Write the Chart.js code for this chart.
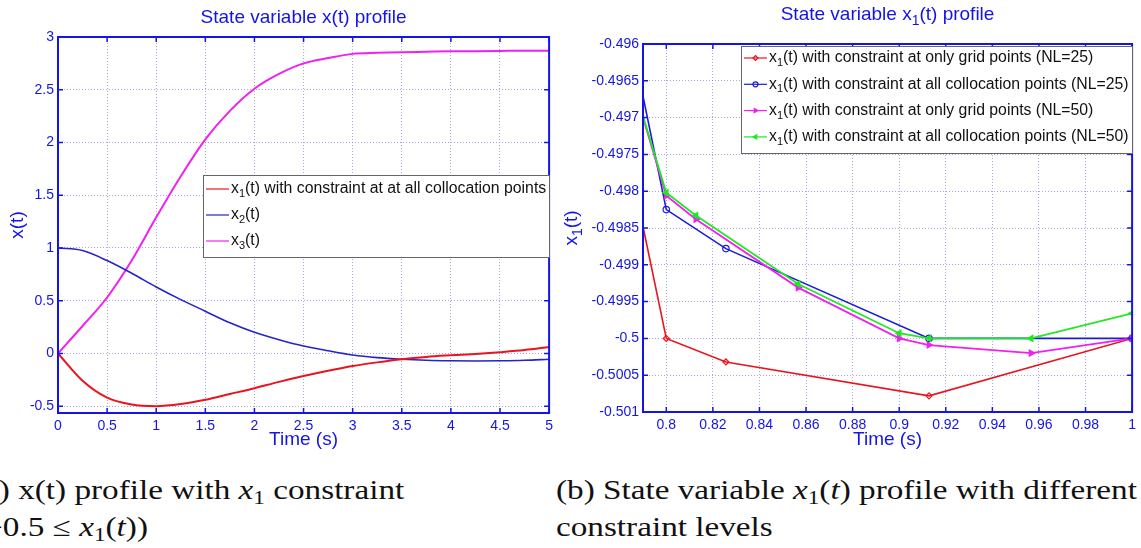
<!DOCTYPE html>
<html>
<head>
<meta charset="utf-8">
<script src="https://cdn.jsdelivr.net/npm/chart.js@4.4.1/dist/chart.umd.min.js"></script>
<style>
  html, body { margin: 0; padding: 0; background: #fff; width: 1141px; height: 548px; overflow: hidden; position: relative; }
  canvas { position: absolute; top: 0; }
  #chartA { left: 0; }
  #chartB { left: 558px; }
  .cap { position: absolute; font-family: "Liberation Serif", "DejaVu Serif", serif; font-size: 27px; line-height: 37px;
         color: #111; white-space: nowrap; transform: scaleX(1.23); transform-origin: left top; }
  .cap i { font-style: italic; }
  .cap sub { font-size: 0.7em; vertical-align: -0.25em; line-height: 0; }
</style>
</head>
<body>
<canvas id="chartA" width="558" height="450"></canvas>
<canvas id="chartB" width="583" height="450"></canvas>
<div class="cap" style="left:-27px; top:472px">(a) x(t) profile with <i>x</i><sub>1</sub> constraint<br>(−0.5 ≤ <i>x</i><sub>1</sub>(<i>t</i>))</div>
<div class="cap" style="left:556px; top:472px">(b) State variable <i>x</i><sub>1</sub>(<i>t</i>) profile with different<br>constraint levels</div>

<script>
// ---- data, figure (a) ----
const timeA = [0, 0.25, 0.5, 0.75, 1, 1.25, 1.5, 1.75, 2, 2.25, 2.5, 2.75, 3, 3.25, 3.5, 3.75, 4, 4.25, 4.5, 4.75, 5];
const x1A = [0, -0.26, -0.42, -0.485, -0.5, -0.48, -0.44, -0.385, -0.33, -0.27, -0.215, -0.165, -0.12, -0.085, -0.055, -0.033, -0.018, -0.005, 0.012, 0.032, 0.06];
const x2A = [1, 0.975, 0.88, 0.76, 0.63, 0.51, 0.4, 0.29, 0.2, 0.13, 0.07, 0.025, -0.015, -0.04, -0.055, -0.065, -0.07, -0.072, -0.07, -0.065, -0.055];
const x3A = [0, 0.26, 0.53, 0.88, 1.29, 1.68, 2.03, 2.3, 2.51, 2.65, 2.75, 2.8, 2.84, 2.85, 2.856, 2.86, 2.864, 2.866, 2.868, 2.87, 2.87];
const xTicksA = [0, 0.5, 1, 1.5, 2, 2.5, 3, 3.5, 4, 4.5, 5];
const yTicksA = [-0.5, 0, 0.5, 1, 1.5, 2, 2.5, 3];

// ---- data, figure (b) ----
const tGrid25 = [0.79, 0.8, 0.8256, 0.9128, 1.0];
const x1Grid25 = [-0.49848, -0.5, -0.50032, -0.50078, -0.5];
const tColl25 = [0.79, 0.8, 0.8256, 0.9128, 1.0];
const x1Coll25 = [-0.49671, -0.49825, -0.49878, -0.5, -0.5];
const tGrid50 = [0.79, 0.8, 0.8127, 0.8566, 0.9, 0.9128, 0.9566, 1.0];
const x1Grid50 = [-0.497, -0.49806, -0.49838, -0.49931, -0.5, -0.50009, -0.5002, -0.5];
const tColl50 = [0.79, 0.8, 0.8127, 0.8566, 0.9, 0.9128, 0.9566, 1.0];
const x1Coll50 = [-0.49698, -0.49802, -0.49833, -0.49926, -0.49993, -0.5, -0.5, -0.49966];
const xTicksB = [0.8, 0.82, 0.84, 0.86, 0.88, 0.9, 0.92, 0.94, 0.96, 0.98, 1];
const yTicksB = [-0.501, -0.5005, -0.5, -0.4995, -0.499, -0.4985, -0.498, -0.4975, -0.497, -0.4965, -0.496];

const FONT = '"Liberation Sans", Arial, sans-serif';
const BLUE = '#1414e6';
const GRID = 'rgba(110, 110, 200, 0.6)';

function pts(xs, ys) {
    return xs.map((x, i) => ({ x: x, y: ys[i] }));
}

// text with subscripts: parts = [[text, isSub], ...]
function richWidth(ctx, parts, size) {
    var w = 0;
    parts.forEach(p => {
        ctx.font = (p[1] ? Math.round(size * 0.72) : size) + 'px ' + FONT;
        w += ctx.measureText(p[0]).width;
    });
    return w;
}
function drawRich(ctx, x, y, parts, size) {
    ctx.textAlign = 'left';
    parts.forEach(p => {
        ctx.font = (p[1] ? Math.round(size * 0.72) : size) + 'px ' + FONT;
        ctx.fillText(p[0], x, y + (p[1] ? size * 0.32 : 0));
        x += ctx.measureText(p[0]).width;
    });
    return x;
}

// frame, inner ticks, titles and legend drawn MATLAB style
const figPlugin = {
    id: 'fig',
    afterDraw(chart, args, o) {
        const ctx = chart.ctx;
        const a = chart.chartArea;
        const xs = chart.scales.x, ys = chart.scales.y;
        ctx.save();

        ctx.strokeStyle = BLUE;
        ctx.lineWidth = 1.5;
        ctx.beginPath();
        xs.ticks.forEach(t => {
            var px = xs.getPixelForValue(t.value);
            ctx.moveTo(px, a.bottom); ctx.lineTo(px, a.bottom - 5);
            ctx.moveTo(px, a.top); ctx.lineTo(px, a.top + 5);
        });
        ys.ticks.forEach(t => {
            var py = ys.getPixelForValue(t.value);
            ctx.moveTo(a.left, py); ctx.lineTo(a.left + 5, py);
            ctx.moveTo(a.right, py); ctx.lineTo(a.right - 5, py);
        });
        ctx.stroke();
        ctx.lineWidth = 2;
        ctx.strokeRect(a.left, a.top, a.right - a.left, a.bottom - a.top);

        // legend box
        var lg = o.legend;
        ctx.fillStyle = '#fff';
        ctx.fillRect(lg.x, lg.y, lg.w, lg.h);
        ctx.strokeStyle = '#666';
        ctx.lineWidth = 1;
        ctx.strokeRect(lg.x + 0.5, lg.y + 0.5, lg.w, lg.h);
        lg.items.forEach((it, i) => {
            var ry = lg.y + lg.first + i * lg.step;
            var ds = chart.data.datasets[it.ds];
            ctx.strokeStyle = ds.borderColor;
            ctx.lineWidth = 1.2;
            ctx.beginPath();
            ctx.moveTo(lg.x + 3, ry); ctx.lineTo(lg.x + 26, ry);
            ctx.stroke();
            if (ds.pointStyle) {
                ctx.fillStyle = ds.pointBackgroundColor;
                Chart.helpers.drawPoint(ctx, { pointStyle: ds.pointStyle, rotation: ds.rotation || 0, radius: 2.5, borderWidth: 1 }, lg.x + 14.5, ry);
            }
            ctx.fillStyle = '#111';
            ctx.textBaseline = 'middle';
            drawRich(ctx, lg.x + 28, ry, it.parts, lg.size);
        });

        // title and axis titles
        ctx.fillStyle = BLUE;
        ctx.textBaseline = 'middle';
        var cx = (a.left + a.right) / 2;
        var tw = richWidth(ctx, o.title, 19);
        drawRich(ctx, cx - tw / 2, o.titleY, o.title, 19);
        var xw = richWidth(ctx, [['Time (s)', 0]], 19);
        drawRich(ctx, cx - xw / 2, 440, [['Time (s)', 0]], 19);
        ctx.translate(o.yLabelX, (a.top + a.bottom) / 2);
        ctx.rotate(-Math.PI / 2);
        var yw = richWidth(ctx, o.yLabel, 19);
        drawRich(ctx, -yw / 2, 0, o.yLabel, 19);
        ctx.restore();
    }
};

function axes(xmin, xmax, xticks, xdig, ymin, ymax, yticks, ydig, yWidth, xHeight) {
    var tickFont = { family: FONT, size: 14 };
    return {
        x: {
            type: 'linear', min: xmin, max: xmax,
            afterBuildTicks: s => { s.ticks = xticks.map(v => ({ value: v })); },
            afterFit: s => { s.height = xHeight; },
            ticks: { color: BLUE, font: tickFont, padding: 5, maxRotation: 0, autoSkip: false,
                     callback: v => String(+v.toFixed(xdig)) },
            grid: { color: GRID, lineWidth: 1, drawTicks: false },
            border: { display: false, dash: [1, 2] }
        },
        y: {
            type: 'linear', min: ymin, max: ymax,
            afterBuildTicks: s => { s.ticks = yticks.map(v => ({ value: v })); },
            afterFit: s => { s.width = yWidth; },
            ticks: { color: BLUE, font: tickFont, padding: 4, autoSkip: false,
                     callback: v => String(+v.toFixed(ydig)) },
            grid: { color: GRID, lineWidth: 1, drawTicks: false },
            border: { display: false, dash: [1, 2] }
        }
    };
}

// ---- figure (a) ----
new Chart(document.getElementById('chartA'), {
    type: 'line',
    data: {
        datasets: [
            { data: pts(timeA, x1A), borderColor: '#e8141e', borderWidth: 2, pointRadius: 0, cubicInterpolationMode: 'monotone' },
            { data: pts(timeA, x2A), borderColor: '#2424c8', borderWidth: 1.6, pointRadius: 0, cubicInterpolationMode: 'monotone' },
            { data: pts(timeA, x3A), borderColor: '#f020f0', borderWidth: 2, pointRadius: 0, cubicInterpolationMode: 'monotone' }
        ]
    },
    options: {
        responsive: false, animation: false, events: [],
        layout: { padding: { left: 0, top: 37, right: 4, bottom: 0 } },
        scales: axes(0, 5, xTicksA, 1, -0.565, 3, yTicksA, 1, 58, 37),
        plugins: {
            legend: { display: false }, tooltip: { enabled: false },
            fig: {
                title: [['State variable x(t) profile', 0]], titleY: 18,
                yLabel: [['x(t)', 0]], yLabelX: 18,
                legend: {
                    x: 203, y: 175, w: 346, h: 82, first: 14, step: 26, size: 15.8,
                    items: [
                        { ds: 0, parts: [['x', 0], ['1', 1], ['(t) with constraint at at all collocation points', 0]] },
                        { ds: 1, parts: [['x', 0], ['2', 1], ['(t)', 0]] },
                        { ds: 2, parts: [['x', 0], ['3', 1], ['(t)', 0]] }
                    ]
                }
            }
        }
    },
    plugins: [figPlugin]
});

// ---- figure (b) ----
new Chart(document.getElementById('chartB'), {
    type: 'line',
    data: {
        datasets: [
            { data: pts(tGrid25, x1Grid25), borderColor: '#e8141e', borderWidth: 1.6, pointStyle: 'rectRot',
              pointRadius: [0, 3, 3, 3, 3], pointBorderWidth: 1.2, pointBackgroundColor: 'rgba(255,255,255,0)', order: 4 },
            { data: pts(tColl25, x1Coll25), borderColor: '#1c1cd8', borderWidth: 1.6, pointStyle: 'circle',
              pointRadius: [0, 3.2, 3.2, 3.2, 3.2], pointBorderWidth: 1.2, pointBackgroundColor: 'rgba(255,255,255,0)', order: 3 },
            { data: pts(tGrid50, x1Grid50), borderColor: '#f020f0', borderWidth: 1.8, pointStyle: 'triangle', rotation: 90,
              pointRadius: [0, 3.5, 3.5, 3.5, 3.5, 3.5, 3.5, 3.5], pointBorderWidth: 1.2, pointBackgroundColor: '#f020f0', order: 2 },
            { data: pts(tColl50, x1Coll50), borderColor: '#20e820', borderWidth: 1.8, pointStyle: 'triangle', rotation: -90,
              pointRadius: [0, 3.5, 3.5, 3.5, 3.5, 3.5, 3.5, 3.5], pointBorderWidth: 1.2, pointBackgroundColor: '#20e820', order: 1 }
        ]
    },
    options: {
        responsive: false, animation: false, events: [],
        layout: { padding: { left: 0, top: 44, right: 6, bottom: 0 } },
        scales: axes(0.79, 1, xTicksB, 2, -0.501, -0.496, yTicksB, 4, 85, 38),
        elements: { line: { tension: 0 } },
        plugins: {
            legend: { display: false }, tooltip: { enabled: false },
            fig: {
                title: [['State variable x', 0], ['1', 1], ['(t) profile', 0]], titleY: 15,
                yLabel: [['x', 0], ['1', 1], ['(t)', 0]], yLabelX: 14,
                legend: {
                    x: 183, y: 46, w: 391, h: 107, first: 12, step: 26.3, size: 15.8,
                    items: [
                        { ds: 0, parts: [['x', 0], ['1', 1], ['(t) with constraint at only grid points (NL=25)', 0]] },
                        { ds: 1, parts: [['x', 0], ['1', 1], ['(t) with constraint at all collocation points (NL=25)', 0]] },
                        { ds: 2, parts: [['x', 0], ['1', 1], ['(t) with constraint at only grid points (NL=50)', 0]] },
                        { ds: 3, parts: [['x', 0], ['1', 1], ['(t) with constraint at all collocation points (NL=50)', 0]] }
                    ]
                }
            }
        }
    },
    plugins: [figPlugin]
});
</script>
</body>
</html>
